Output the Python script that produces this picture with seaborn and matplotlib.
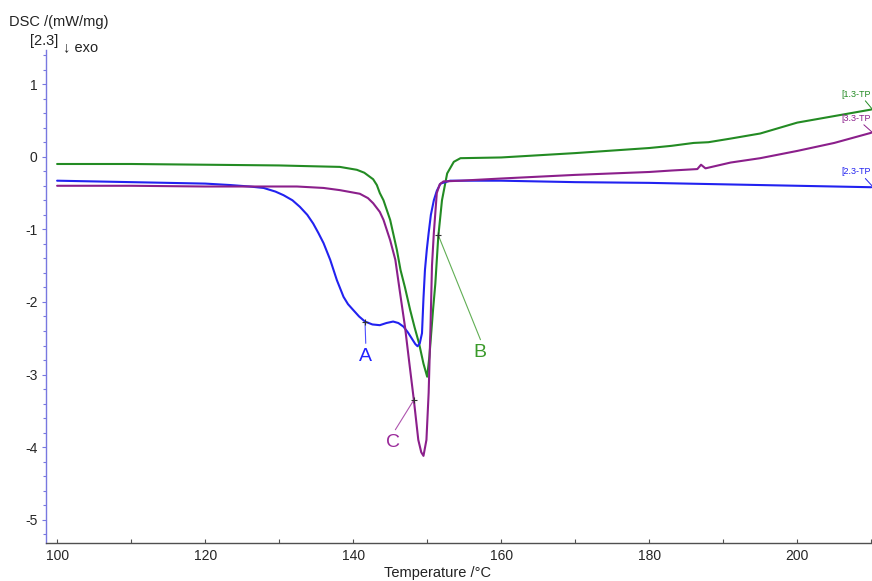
import numpy as np
import pandas as pd
import matplotlib
matplotlib.use("Agg")
import matplotlib.pyplot as plt
import seaborn as sns

# ---- data ----
temp_A = [100, 110, 120, 123.4, 126, 127.9, 129.5, 130.6, 131.8, 132.8, 133.8, 134.6, 135.3,
          136.0, 136.9, 137.8, 138.7, 139.3, 140.0, 140.8, 141.6, 142.6, 143.6, 144.5, 145.4,
          146.1, 146.8, 147.4, 147.9, 148.4, 148.7, 149.0, 149.3, 149.5, 149.7, 149.95,
          150.2, 150.5, 150.9, 151.3, 151.8, 153.1, 160, 170, 180, 190, 200, 210]
dsc_A = [-0.33, -0.35, -0.37, -0.39, -0.41, -0.43, -0.48, -0.53, -0.60, -0.69, -0.80, -0.92,
         -1.05, -1.19, -1.42, -1.70, -1.93, -2.03, -2.11, -2.20, -2.27, -2.31, -2.32, -2.29,
         -2.27, -2.29, -2.34, -2.42, -2.50, -2.58, -2.61, -2.57, -2.43, -1.95, -1.56, -1.28,
         -1.05, -0.80, -0.60, -0.47, -0.37, -0.33, -0.33, -0.35, -0.36, -0.38, -0.40, -0.42]

temp_B = [100, 110, 120, 130, 134, 138.2, 140.5, 141.5, 142.3, 142.7, 143.2, 143.6, 144.1,
          145.0, 145.9, 146.4, 147.0, 147.7, 148.3, 148.9, 149.5, 150.0, 150.3, 150.8, 151.1,
          151.5, 152.0, 152.7, 153.6, 154.5, 160, 170, 180, 183, 186, 188, 191, 195, 200,
          205, 210]
dsc_B = [-0.10, -0.10, -0.11, -0.12, -0.13, -0.14, -0.18, -0.22, -0.28, -0.31, -0.39, -0.50,
         -0.60, -0.87, -1.28, -1.56, -1.80, -2.11, -2.35, -2.57, -2.85, -3.03, -2.75, -2.10,
         -1.75, -1.10, -0.60, -0.23, -0.07, -0.02, -0.01, 0.05, 0.12, 0.15, 0.19, 0.20, 0.25,
         0.32, 0.47, 0.56, 0.65]

temp_C = [100, 110, 120, 132.4, 136, 138.2, 140.9, 142.0, 142.7, 143.6, 144.1, 145.0, 145.7,
          146.3, 147.0, 147.6, 148.2, 148.8, 149.2, 149.5, 149.9, 150.2, 150.45, 150.65,
          150.9, 151.3, 151.7, 152.2, 154.5, 160, 170, 180, 183, 186.5, 187, 187.6, 191,
          195, 200, 205, 210]
dsc_C = [-0.40, -0.40, -0.41, -0.41, -0.43, -0.46, -0.51, -0.57, -0.64, -0.76, -0.87, -1.15,
         -1.42, -1.85, -2.34, -2.85, -3.35, -3.90, -4.07, -4.12, -3.90, -3.25, -2.34, -1.50,
         -1.05, -0.50, -0.38, -0.34, -0.33, -0.30, -0.25, -0.21, -0.19, -0.17, -0.11, -0.16,
         -0.08, -0.02, 0.08, 0.19, 0.33]

series_names = ["[1.3-TP", "[2.3-TP", "[3.3-TP"]
series_colors = {"[1.3-TP": "#238b23", "[2.3-TP": "#2222f0", "[3.3-TP": "#8b1f8b"}
tag_names = ["A", "B", "C"]
tag_colors = ["#2222ff", "#3a9a2a", "#9a2a9a"]
x_ticks = [100, 120, 140, 160, 180, 200]
y_ticks = [-5, -4, -3, -2, -1, 0, 1]

df = pd.concat([
    pd.DataFrame({"T": temp_B, "DSC": dsc_B, "run": series_names[0]}),
    pd.DataFrame({"T": temp_A, "DSC": dsc_A, "run": series_names[1]}),
    pd.DataFrame({"T": temp_C, "DSC": dsc_C, "run": series_names[2]}),
], ignore_index=True)

sns.set_theme(style="white")
plt.rcParams["font.family"] = ["Liberation Sans", "DejaVu Sans"]
plt.rcParams["axes.unicode_minus"] = False

fig = plt.figure(figsize=(8.72, 5.81), dpi=100)
W, H = 872, 581
ax = fig.add_axes([46 / W, 1 - 543 / H, 1 - 46 / W, (543 - 50) / H])

sns.lineplot(data=df, x="T", y="DSC", hue="run", palette=series_colors,
             estimator=None, sort=False, linewidth=1.5, legend=False, ax=ax)

ax.set_xlim(98.5, 210.1)
ax.set_ylim(-5.32, 1.47)

# spines
for s in ["top", "right"]:
    ax.spines[s].set_visible(False)
ax.spines["left"].set_color("#7878e0")
ax.spines["left"].set_linewidth(1.0)
ax.spines["bottom"].set_color("#505050")
ax.spines["bottom"].set_linewidth(1.0)

ax.set_xticks(x_ticks)
ax.set_xticks(np.arange(110, 211, 20), minor=True)
ax.set_yticks(y_ticks)
ax.set_yticks(np.arange(-5.2, 1.41, 0.2), minor=True)
ax.tick_params(axis="x", which="both", direction="in", length=3, width=0.8,
               color="#505050", labelsize=10, pad=4, bottom=True)
ax.tick_params(axis="y", which="major", direction="out", length=3, width=0.8,
               color="#7878e0", labelsize=10, pad=3, left=True)
ax.tick_params(axis="y", which="minor", direction="out", length=2, width=0.8,
               color="#7878e0", left=True)
ax.set_xlabel("")
ax.set_ylabel("")
ax.grid(False)

# annotations A, B, C
ann = [((141.6, -2.27), (141.7, -2.57), (141.6, -2.75)),
       ((151.5, -1.08), (157.2, -2.52), (157.1, -2.70)),
       ((148.2, -3.35), (145.7, -3.76), (145.4, -3.94))]
for (pt, lend, lab), name, col in zip(ann, tag_names, tag_colors):
    ax.plot([pt[0], lend[0]], [pt[1], lend[1]], color=col, lw=0.8, alpha=0.8)
    ax.plot(pt[0], pt[1], marker="+", color="#333333", ms=5, mew=0.8)
    ax.text(lab[0], lab[1], name, color=col, fontsize=14, ha="center", va="center")

# right-edge run labels with small leader lines
lab_pos = {"[1.3-TP": 0.86, "[3.3-TP": 0.53, "[2.3-TP": -0.21}
for name in series_names:
    ax.text(0.999, lab_pos[name], name, color=series_colors[name], fontsize=6.5,
            ha="right", va="center", transform=ax.get_yaxis_transform(), clip_on=False)
ax.plot([209.2, 210.1], [0.77, 0.66], color=series_colors["[1.3-TP"], lw=0.7)
ax.plot([209.0, 210.1], [0.44, 0.34], color=series_colors["[3.3-TP"], lw=0.7)
ax.plot([209.2, 210.1], [-0.30, -0.40], color=series_colors["[2.3-TP"], lw=0.7)

# titles / labels
fig.text(9 / W, 1 - 22 / H, "DSC /(mW/mg)", fontsize=10.5, ha="left", va="center", color="#222222")
fig.text(30 / W, 1 - 41 / H, "[2.3]", fontsize=10.5, ha="left", va="center", color="#222222")
fig.text(63 / W, 1 - 47 / H, "↓ exo", fontsize=10.5, ha="left", va="center", color="#222222")
fig.text(437 / W, 1 - 573 / H, "Temperature /°C", fontsize=10.5, ha="center", va="center",
         color="#222222")

fig.savefig("out.png", dpi=100)
